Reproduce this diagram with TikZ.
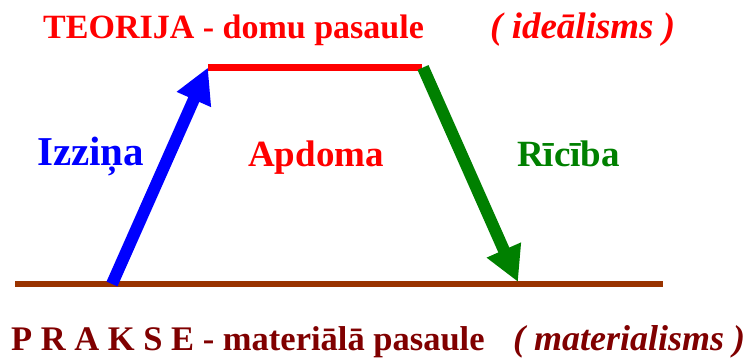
\documentclass[tikz,border=0pt]{standalone}
\usepackage{fontspec}
\setmainfont{Liberation Serif}
\usetikzlibrary{arrows.meta}
\definecolor{brownline}{HTML}{993300}
\definecolor{darkred}{HTML}{800000}
\definecolor{dgreen}{HTML}{008000}
\tikzset{
  lbl/.style={inner sep=0pt, anchor=base west, font=\bfseries},
  bigarrow/.style={line width=12pt, -{Triangle[length=35pt,width=35pt]}},
}
\begin{document}
\begin{tikzpicture}[x=1pt,y=-1pt]
\useasboundingbox (0,0) rectangle (754,358);
% coordinates
\coordinate (tl) at (208,67.5);
\coordinate (tr) at (422,67.5);
\coordinate (bl) at (15,284);
\coordinate (br) at (663,284);
\coordinate (bs) at (112,284);
\coordinate (ge) at (518,282);
\coordinate (gs) at (423,67.5);
% lines
\draw[red, line width=7.5pt] (tl) -- (tr);
\draw[brownline, line width=6pt] (bl) -- (br);
\draw[bigarrow, blue] (bs) -- (tl);
\draw[bigarrow, dgreen] (gs) -- (ge);
% texts
\node[lbl, red, font=\bfseries\fontsize{34}{36}\selectfont] (teo) at (43,39) {TEORIJA - domu pasaule};
\node[lbl, red, font=\bfseries\itshape\fontsize{37}{40}\selectfont] (ide) at (490,39) {( ideālisms )};
\node[lbl, blue, font=\bfseries\fontsize{41}{44}\selectfont] (izz) at (37,166) {Izziņa};
\node[lbl, red, font=\bfseries\fontsize{37}{40}\selectfont] (apd) at (248,167) {Apdoma};
\node[lbl, dgreen, font=\bfseries\fontsize{37}{40}\selectfont] (ric) at (517,167) {Rīcība};
\node[lbl, darkred, font=\bfseries\fontsize{34.5}{36}\selectfont] (pra) at (11,350) {P R A K S E - materiālā pasaule};
\node[lbl, darkred, font=\bfseries\itshape\fontsize{36}{40}\selectfont] (mat) at (513,350) {( materialisms )};
\end{tikzpicture}
\end{document}
